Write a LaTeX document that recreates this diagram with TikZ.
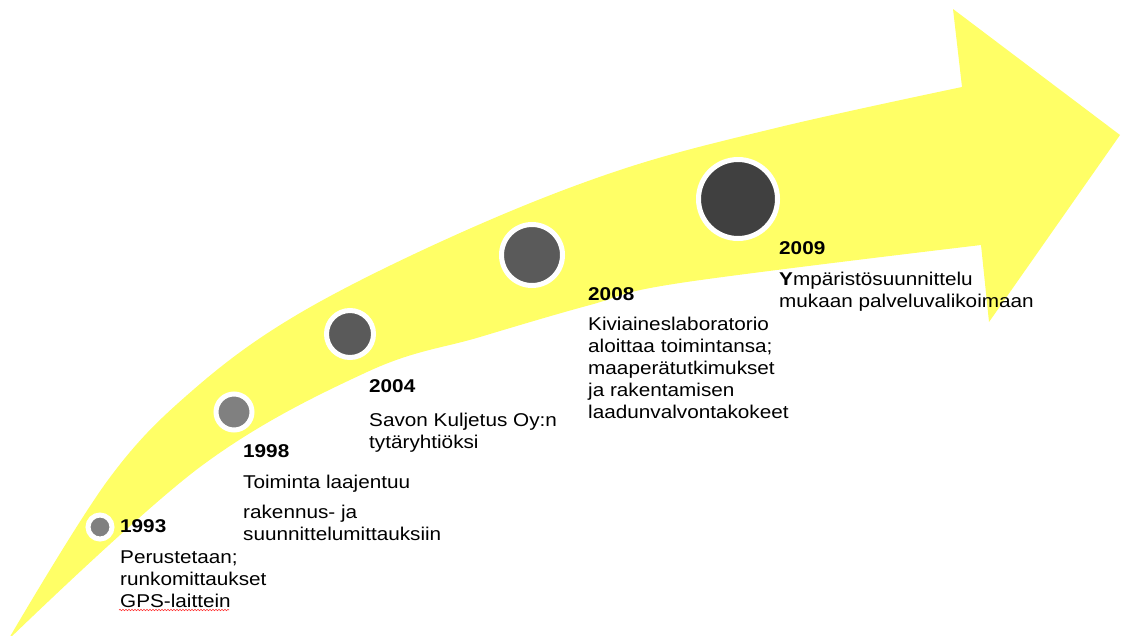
\documentclass[tikz,border=0pt]{standalone}
\usepackage{fontspec}
\setmainfont{Liberation Sans}[FakeStretch=1.12]
\usetikzlibrary{decorations.pathmorphing}
\definecolor{bandyellow}{RGB}{255,255,102}
\definecolor{dotlight}{RGB}{128,128,128}
\definecolor{dotmid}{RGB}{90,90,90}
\definecolor{dotdark}{RGB}{64,64,64}
\begin{document}
\begin{tikzpicture}[x=1pt,y=-1pt,
  milestone/.style={circle,inner sep=0pt,draw=white,line width=5pt,fill=#1},
  yearlabel/.style={anchor=base west,inner sep=0pt,font=\fontsize{18.5}{22}\selectfont\bfseries},
  % multi-line blocks are placed by the baseline of their last line
  desc/.style={anchor=base west,inner sep=0pt,align=left,font=\fontsize{18.5}{22}\selectfont}]
\useasboundingbox (0,0) rectangle (1123,635);

% curved timeline arrow
\fill[bandyellow]
  plot[smooth,tension=0.6] coordinates {(8,640) (108,480) (193,390) (300,313) (460,233) (620,170) (780,127) (962,87)}
  -- (953,9) -- (1120,135) -- (989,322) -- (981,245)
  -- plot[smooth,tension=0.6] coordinates {(981,245) (680,283) (590,305) (480,337) (367,372) (200,467) (8,640)}
  -- cycle;

% milestones
\node[milestone=dotlight,minimum size=24pt] (c1993) at (100,527) {};
\node[milestone=dotlight,minimum size=36pt] (c1998) at (234,412) {};
\node[milestone=dotmid,minimum size=47pt] (c2004) at (350,334) {};
\node[milestone=dotmid,minimum size=61pt] (c2008) at (532,255) {};
\node[milestone=dotdark,minimum size=79pt] (c2009) at (738,199) {};

% labels
\node[yearlabel] (y1993) at (120,532) {1993};
\node[desc] (t1993) at (120,607) {Perustetaan;\\runkomittaukset\\GPS-laittein};
\coordinate (ula) at (119,610);
\coordinate (ulb) at (229,610);
\draw[red!80,line width=0.6pt,decorate,decoration={snake,amplitude=0.7pt,segment length=3pt}] (ula) -- (ulb);

\node[yearlabel] (y1998) at (243,457) {1998};
\node[desc] (t1998) at (243,540) {Toiminta laajentuu\\[8pt]rakennus- ja\\suunnittelumittauksiin};

\node[yearlabel] (y2004) at (369,392) {2004};
\node[desc] (t2004) at (369,448) {Savon Kuljetus Oy:n\\tytäryhtiöksi};

\node[yearlabel] (y2008) at (588,300) {2008};
\node[desc] (t2008) at (588,418) {Kiviaineslaboratorio\\aloittaa toimintansa;\\maaperätutkimukset\\ja rakentamisen\\laadunvalvontakokeet};

\node[yearlabel] (y2009) at (779,254) {2009};
\node[desc] (t2009) at (779,307) {\textbf{Y}mpäristösuunnittelu\\mukaan palveluvalikoimaan};
\end{tikzpicture}
\end{document}
